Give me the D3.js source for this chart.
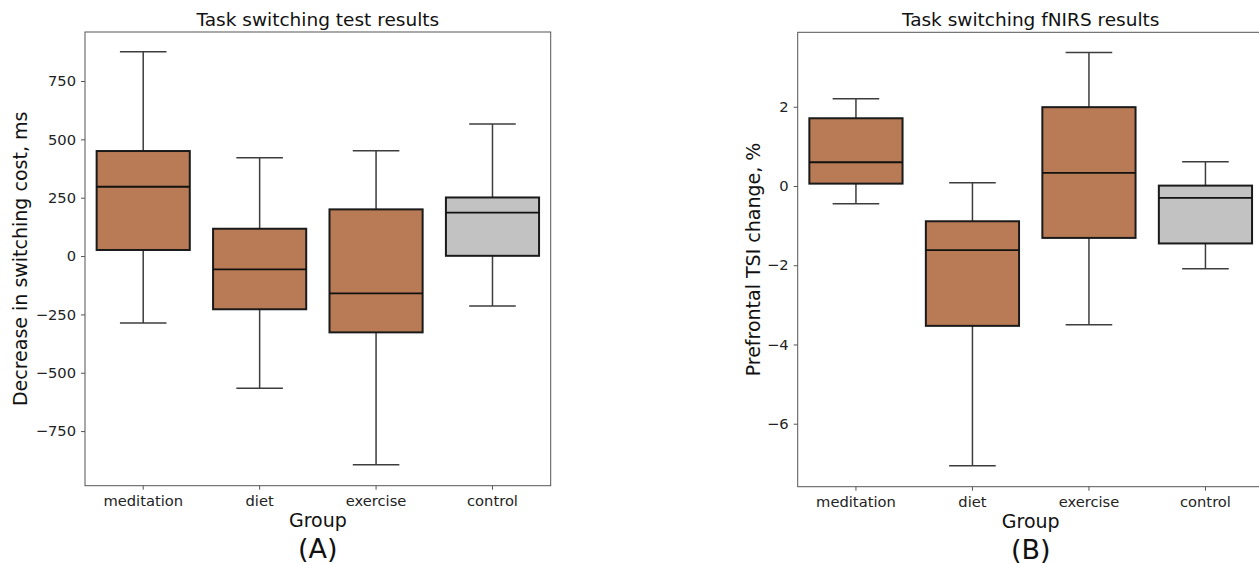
<!DOCTYPE html>
<html>
<head>
<meta charset="utf-8">
<script src="https://cdn.jsdelivr.net/npm/d3@7"></script>
<style>
  body { margin: 0; background: #fff; }
  svg { display: block; font-family: "DejaVu Sans", sans-serif; }
  .axis path, .axis line { stroke: #555; stroke-width: 1; }
  .axis text { font-family: "DejaVu Sans", sans-serif; font-size: 14.7px; fill: #222; }
</style>
</head>
<body>
<svg id="chart" width="1259" height="564"></svg>
<script>
/* ── DATA ── */
const groups = ['meditation', 'diet', 'exercise', 'control'];
const groupColors = ['#b97b55', '#b97b55', '#b97b55', '#c2c2c2'];

// switching cost (ms): lower whisker, Q1, median, Q3, upper whisker
const costLow    = [-287, -566, -894, -214];
const costQ1     = [26, -228, -327, 1];
const costMedian = [297, -57, -160, 186];
const costQ3     = [450, 117, 200, 251];
const costHigh   = [875, 421, 451, 566];
const costTicks  = [-750, -500, -250, 0, 250, 500, 750];

// prefrontal TSI change (%)
const tsiLow    = [-0.45, -7.06, -3.5, -2.09];
const tsiQ1     = [0.06, -3.53, -1.31, -1.45];
const tsiMedian = [0.6, -1.62, 0.33, -0.30];
const tsiQ3     = [1.71, -0.89, 1.99, 0.01];
const tsiHigh   = [2.2, 0.08, 3.37, 0.61];
const tsiTicks  = [-6, -4, -2, 0, 2];

const svg = d3.select('#chart');

/* ── PANEL ── */
function drawPanel(opt) {
  const { left, top, width, height } = opt;
  const g = svg.append('g').attr('transform', `translate(${left},${top})`);

  const x = d3.scaleBand().domain(groups).range([0, width]);
  const y = d3.scaleLinear().domain(opt.domain).range([height, 0]);

  const data = groups.map((name, i) => ({
    name, lo: opt.lo[i], q1: opt.q1[i], med: opt.med[i], q3: opt.q3[i], hi: opt.hi[i], color: groupColors[i]
  }));

  const boxW = x.bandwidth() * 0.8;
  const capW = boxW / 2;

  const bx = g.selectAll('.bx').data(data).enter().append('g')
    .attr('transform', d => `translate(${x(d.name) + x.bandwidth() / 2},0)`);

  // whiskers
  bx.append('line').attr('x1', 0).attr('x2', 0)
    .attr('y1', d => y(d.hi)).attr('y2', d => y(d.q3))
    .attr('stroke', '#3d3d3d').attr('stroke-width', 1.5);
  bx.append('line').attr('x1', 0).attr('x2', 0)
    .attr('y1', d => y(d.q1)).attr('y2', d => y(d.lo))
    .attr('stroke', '#3d3d3d').attr('stroke-width', 1.5);
  bx.append('line').attr('x1', -capW / 2).attr('x2', capW / 2)
    .attr('y1', d => y(d.hi)).attr('y2', d => y(d.hi))
    .attr('stroke', '#3d3d3d').attr('stroke-width', 1.5);
  bx.append('line').attr('x1', -capW / 2).attr('x2', capW / 2)
    .attr('y1', d => y(d.lo)).attr('y2', d => y(d.lo))
    .attr('stroke', '#3d3d3d').attr('stroke-width', 1.5);

  // box
  bx.append('rect')
    .attr('x', -boxW / 2).attr('width', boxW)
    .attr('y', d => y(d.q3)).attr('height', d => y(d.q1) - y(d.q3))
    .attr('fill', d => d.color).attr('stroke', '#1a1a1a').attr('stroke-width', 2);

  // median
  bx.append('line').attr('x1', -boxW / 2).attr('x2', boxW / 2)
    .attr('y1', d => y(d.med)).attr('y2', d => y(d.med))
    .attr('stroke', '#111').attr('stroke-width', 1.8);

  // frame
  g.append('rect').attr('width', width).attr('height', height)
    .attr('fill', 'none').attr('stroke', '#555').attr('stroke-width', 1);

  // axes
  g.append('g').attr('class', 'axis').attr('transform', `translate(0,${height})`)
    .call(d3.axisBottom(x).tickSize(4).tickPadding(6).tickSizeOuter(0))
    .call(a => a.select('.domain').remove());
  g.append('g').attr('class', 'axis')
    .call(d3.axisLeft(y).tickValues(opt.ticks).tickSize(4).tickPadding(5)
      .tickFormat(d => d < 0 ? '\u2212' + Math.abs(d) : d))
    .call(a => a.select('.domain').remove());

  // titles
  const cx = opt.titleCx;
  g.append('text').attr('x', cx).attr('y', -6).attr('text-anchor', 'middle')
    .attr('font-size', 18.5).attr('fill', '#111').text(opt.title);
  g.append('text').attr('x', cx).attr('y', height + 41).attr('text-anchor', 'middle')
    .attr('font-size', 19).attr('fill', '#111').text('Group');
  g.append('text').attr('x', cx).attr('y', height + 72).attr('text-anchor', 'middle')
    .attr('font-size', 27).attr('fill', '#111').text(opt.tag);
  g.append('text')
    .attr('transform', `translate(${opt.yLabelX},${height / 2}) rotate(-90)`)
    .attr('text-anchor', 'middle').attr('font-size', 19).attr('fill', '#111')
    .text(opt.yLabel);
}

drawPanel({
  left: 85, top: 32, width: 465.7, height: 453.7,
  domain: [-984, 960],
  lo: costLow, q1: costQ1, med: costMedian, q3: costQ3, hi: costHigh,
  ticks: costTicks,
  title: 'Task switching test results', tag: '(A)',
  yLabel: 'Decrease in switching cost, ms', yLabelX: -58,
  titleCx: 465.7 / 2
});

drawPanel({
  left: 797.7, top: 32.3, width: 466, height: 454.4,
  domain: [-7.59, 3.88],
  lo: tsiLow, q1: tsiQ1, med: tsiMedian, q3: tsiQ3, hi: tsiHigh,
  ticks: tsiTicks,
  title: 'Task switching fNIRS results', tag: '(B)',
  yLabel: 'Prefrontal TSI change, %', yLabelX: -38,
  titleCx: 233
});
</script>
</body>
</html>
